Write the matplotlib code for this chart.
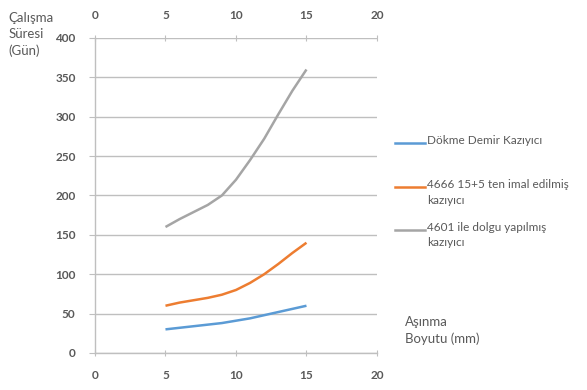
import matplotlib.pyplot as plt
from matplotlib.lines import Line2D

# wear size (mm) and working time (days) per scraper type
asinma = [5, 6, 7, 8, 9, 10, 11, 12, 13, 14, 15]
dokme_demir = [30, 32, 34, 36, 38, 41, 44, 48, 52, 56, 60]
imal_4666 = [60, 64, 67, 70, 74, 80, 89, 100, 113, 127, 140]
dolgu_4601 = [160, 170, 179, 188, 200, 220, 245, 272, 303, 333, 360]

etiketler = ['Dökme Demir Kazıyıcı',
             '4666 15+5 ten imal edilmiş\nkazıyıcı',
             '4601 ile dolgu yapılmış\nkazıyıcı']
renkler = ['#5B9BD5', '#ED7D31', '#A5A5A5']

xticks = [0, 5, 10, 15, 20]
yticks = [0, 50, 100, 150, 200, 250, 300, 350, 400]

plt.rcParams['font.family'] = ['Lato', 'DejaVu Sans']
yazi = '#595959'

fig = plt.figure(figsize=(5.87, 3.90), dpi=100)
ax = fig.add_axes([0.1618, 0.0949, 0.4804, 0.8077])

for seri, renk in zip([dokme_demir, imal_4666, dolgu_4601], renkler):
    ax.plot(asinma, seri, color=renk, lw=1.8, solid_capstyle='butt',
            solid_joinstyle='round')

ax.set_xlim(0, 20)
ax.set_ylim(0, 400)
ax.set_xticks(xticks)
ax.set_yticks(yticks)
ax.grid(axis='y', color='#BFBFBF', lw=1.0)
ax.set_axisbelow(True)
for s in ['right', 'top']:
    ax.spines[s].set_visible(False)
for s in ['left', 'bottom']:
    ax.spines[s].set_color('#BFBFBF')
    ax.spines[s].set_linewidth(1.0)
ax.tick_params(axis='x', top=True, labeltop=True, direction='inout',
               length=5, color='#BFBFBF', labelcolor=yazi, labelsize=8.5,
               pad=10)
ax.tick_params(axis='y', direction='out', length=4, color='#BFBFBF',
               labelcolor=yazi, labelsize=8.5, pad=10)
for lbl in ax.get_xticklabels() + ax.get_yticklabels():
    lbl.set_fontweight('bold')

fig.text(0.014, 0.97, 'Çalışma\nSüresi\n(Gün)', color=yazi, fontsize=9.5,
         va='top', ha='left', linespacing=1.45)
fig.text(0.69, 0.115, 'Aşınma\nBoyutu (mm)', color=yazi, fontsize=9.5,
         va='bottom', ha='left', linespacing=1.45)

# legend drawn by hand so the key sits on the first text line
leg_y = [0.633, 0.52, 0.41]
for y, etiket, renk in zip(leg_y, etiketler, renkler):
    fig.add_artist(Line2D([0.673, 0.724], [y, y], color=renk, lw=1.8,
                          transform=fig.transFigure))
    fig.text(0.727, y + 0.022, etiket, color=yazi, fontsize=8.5,
             va='top', ha='left', linespacing=1.55)

fig.savefig('out.png', dpi=100)
